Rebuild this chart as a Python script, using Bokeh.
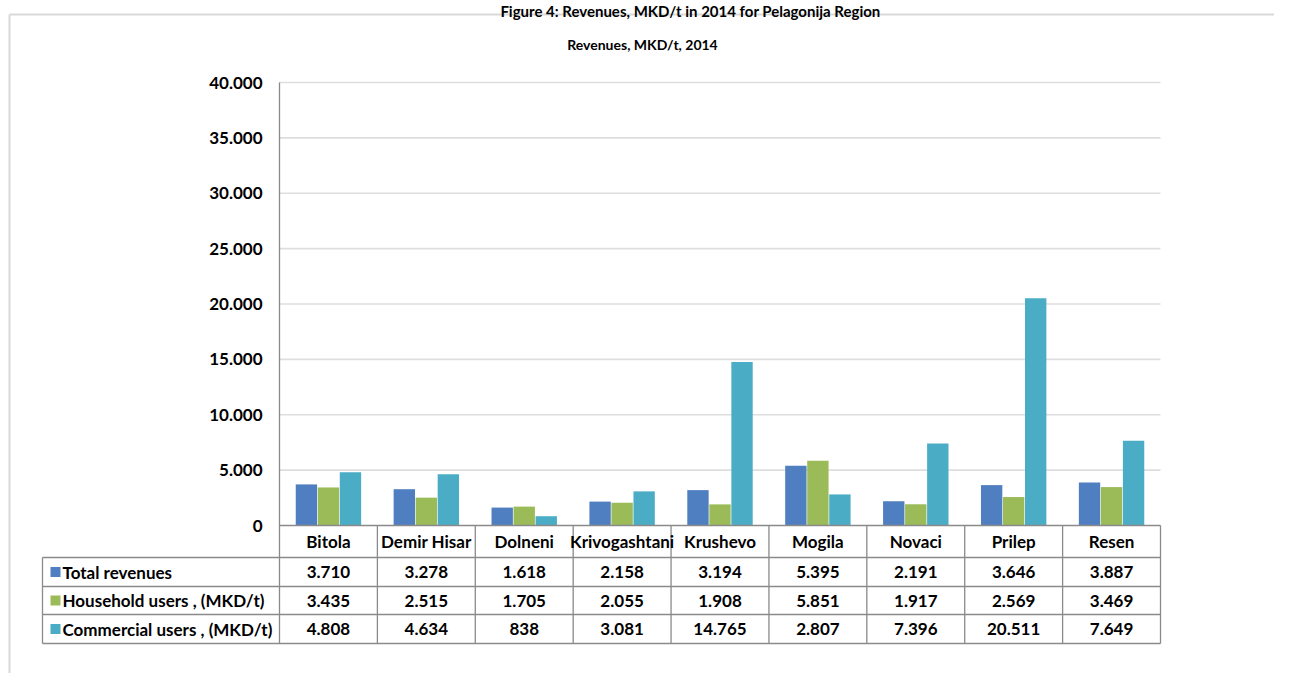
from bokeh.plotting import figure
from bokeh.models import Range1d, ColumnDataSource
from bokeh.core.properties import value
from bokeh.embed import file_html
from bokeh.resources import INLINE

# ---------------- data ----------------
categories = ["Bitola", "Demir Hisar", "Dolneni", "Krivogashtani", "Krushevo",
              "Mogila", "Novaci", "Prilep", "Resen"]
series_names = ["Total revenues", "Household users , (MKD/t)", "Commercial users , (MKD/t)"]
total_revenues = [3710, 3278, 1618, 2158, 3194, 5395, 2191, 3646, 3887]
household_users = [3435, 2515, 1705, 2055, 1908, 5851, 1917, 2569, 3469]
commercial_users = [4808, 4634, 838, 3081, 14765, 2807, 7396, 20511, 7649]
y_ticks = [0, 5000, 10000, 15000, 20000, 25000, 30000, 35000, 40000]
main_title = "Figure 4: Revenues, MKD/t in 2014 for Pelagonija Region"
chart_title = "Revenues, MKD/t, 2014"

# ---------------- layout (canvas pixels) ----------------
W, H = 1274, 673
PX0, PX1 = 279, 1160          # plot area left/right
PY0, PYT = 525, 82            # value 0 / value 40000
YMAX = 40000
NC = len(categories)
CW = (PX1 - PX0) / NC


def X(cx):
    return (cx - PX0) / CW


def Y(cy):
    return (PY0 - cy) * YMAX / (PY0 - PYT)


def fmt(v):
    return f"{v:,}".replace(",", ".")


FONT = value("Lato")
FS = "17px"
colors = ["#4f7fc0", "#9bbb59", "#4bacc6"]
grid_c = "#dedede"
line_c = "#8a8a8a"

p = figure(width=W, height=H, output_backend="svg", toolbar_location=None,
           x_range=Range1d(X(0), X(W)), y_range=Range1d(Y(H), Y(0)),
           min_border=0, min_border_left=0, min_border_right=0,
           min_border_top=0, min_border_bottom=0)
p.xaxis.visible = False
p.yaxis.visible = False
p.grid.visible = False
p.outline_line_color = None
p.background_fill_color = "white"
p.border_fill_color = "white"

# outer chart frame
p.segment(x0=[X(9), X(9)], y0=[Y(14), Y(14)], x1=[X(W), X(9)], y1=[Y(14), Y(H)],
          line_color="#d9d9d9", line_width=2)

# titles
p.text(x=[X(690)], y=[Y(1)], text=[main_title], text_font=FONT, text_font_style="bold",
       text_font_size="15px", text_align="center", text_baseline="top", text_color="black")
p.text(x=[X(642)], y=[Y(44)], text=[chart_title], text_font=FONT, text_font_style="bold",
       text_font_size="14px", text_align="center", text_baseline="middle", text_color="black")

# gridlines
gt = [t for t in y_ticks if t > 0]
p.segment(x0=[0] * len(gt), y0=gt, x1=[NC] * len(gt), y1=gt, line_color=grid_c, line_width=1.6)

# y tick labels
p.text(x=[X(262)] * len(y_ticks), y=y_ticks, text=[fmt(t) for t in y_ticks],
       text_font=FONT, text_font_style="bold", text_font_size=FS,
       text_align="right", text_baseline="middle", text_color="black")

# bars
bw = 0.225
offsets = [-bw, 0.0, bw]
for vals, off, col in zip([total_revenues, household_users, commercial_users], offsets, colors):
    src = ColumnDataSource(dict(x=[i + 0.5 + off for i in range(NC)], top=vals))
    p.vbar(x="x", top="top", bottom=0, width=bw * 0.97, source=src,
           fill_color=col, line_color=None)

# table geometry
row_lines = [557, 586, 614, 643]
header_top, header_bot = PY0, 557
leg_left = 42

# axis line & header / table lines
p.segment(x0=[0], y0=[YMAX], x1=[0], y1=[Y(row_lines[-1])], line_color=line_c, line_width=1.3)
p.segment(x0=[0], y0=[0], x1=[NC], y1=[0], line_color=line_c, line_width=1.3)
p.segment(x0=list(range(1, NC + 1)), y0=[0] * NC, x1=list(range(1, NC + 1)),
          y1=[Y(row_lines[-1])] * NC, line_color=line_c, line_width=1.3)
p.segment(x0=[X(leg_left)] * len(row_lines), y0=[Y(r) for r in row_lines],
          x1=[NC] * len(row_lines), y1=[Y(r) for r in row_lines], line_color=line_c, line_width=1.3)
p.segment(x0=[X(leg_left)], y0=[Y(row_lines[0])], x1=[X(leg_left)], y1=[Y(row_lines[-1])],
          line_color=line_c, line_width=1.3)

# category labels
p.text(x=[i + 0.5 for i in range(NC)], y=[Y((header_top + header_bot) / 2)] * NC, text=categories,
       text_font=FONT, text_font_style="bold", text_font_size=FS,
       text_align="center", text_baseline="middle", text_color="black")

# table rows
for r, (name, vals, col) in enumerate(zip(series_names,
                                          [total_revenues, household_users, commercial_users], colors)):
    yc = Y((row_lines[r] + row_lines[r + 1]) / 2)
    p.scatter(x=[X(leg_left + 13)], y=[yc], marker="square", size=10, fill_color=col, line_color=None)
    p.text(x=[X(leg_left + 20)], y=[yc], text=[name], text_font=FONT, text_font_style="bold",
           text_font_size=FS, text_align="left", text_baseline="middle", text_color="black")
    p.text(x=[i + 0.5 for i in range(NC)], y=[yc] * NC, text=[fmt(v) for v in vals],
           text_font=FONT, text_font_style="bold", text_font_size=FS,
           text_align="center", text_baseline="middle", text_color="black")

open("out.html", "w").write(file_html(p, INLINE))
